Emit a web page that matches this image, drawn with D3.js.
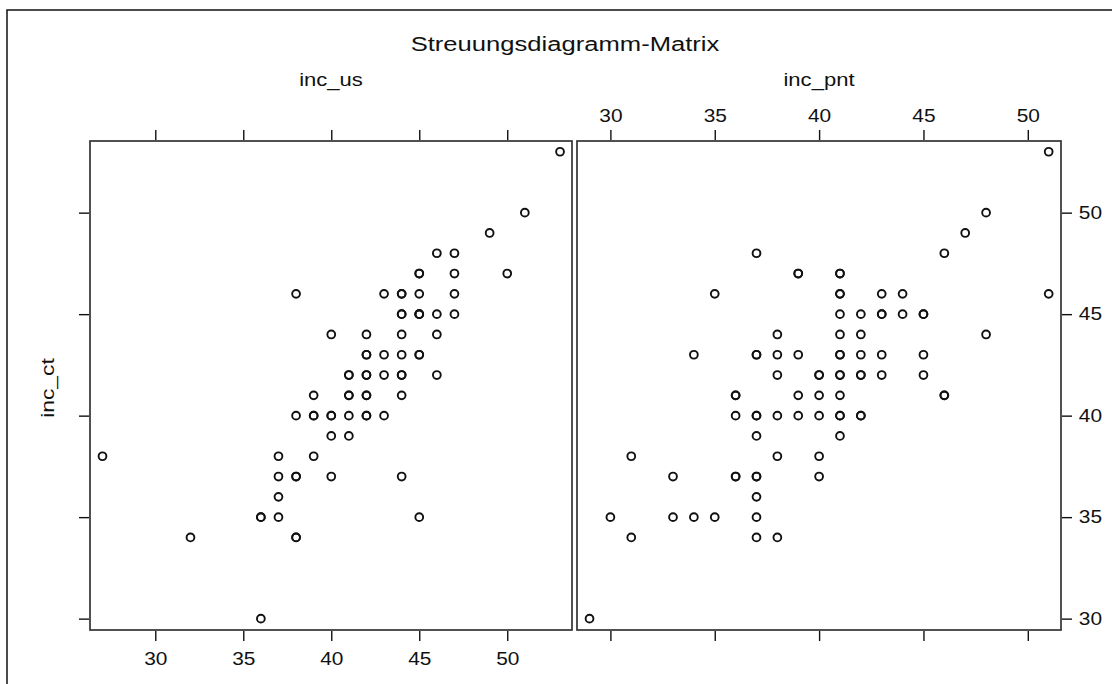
<!DOCTYPE html>
<html>
<head>
<meta charset="utf-8">
<script src="https://cdn.jsdelivr.net/npm/d3@7"></script>
<style>
  html, body { margin: 0; padding: 0; background: #fff; }
  svg { display: block; }
  text { font-family: "Liberation Sans", Arial, sans-serif; fill: #111; }
</style>
</head>
<body>
<svg id="chart" width="1112" height="684"></svg>
<script>
// ---------------- data ----------------
const chartTitle = "Streuungsdiagramm-Matrix";
const panelTitles = ["inc_us", "inc_pnt"];
const yVarName = "inc_ct";
const tickValues = [30, 35, 40, 45, 50];

// Panel 1: inc_us (x) vs inc_ct (y)
const incUs_x = [53,51,49,46,47,45,45,47,50,38,43,44,44,45,47,44,44,45,45,45,46,47,
  40,42,44,46,42,42,43,44,45,45,41,41,42,42,43,44,44,46,39,41,41,42,42,44,
  38,39,39,40,40,41,42,42,43,40,41,27,37,39,37,38,38,40,44,37,36,36,37,45,32,38,38,36];
const incUs_ct = [53,50,49,48,48,47,47,47,47,46,46,46,46,46,46,45,45,45,45,45,45,45,
  44,44,44,44,43,43,43,43,43,43,42,42,42,42,42,42,42,42,41,41,41,41,41,41,
  40,40,40,40,40,40,40,40,40,39,39,38,38,38,37,37,37,37,37,36,35,35,35,35,34,34,34,30];

// Panel 2: inc_pnt (x) vs inc_ct (y)
const incPnt_x = [51,48,47,37,46,39,39,41,41,35,41,41,43,44,51,41,42,43,43,44,45,45,
  38,41,42,48,34,37,37,38,39,41,41,42,43,45,38,40,40,41,41,42,42,43,45,
  36,36,39,40,41,46,46,36,37,37,38,39,40,41,41,42,42,37,41,31,38,40,
  33,36,36,37,37,40,37,30,33,34,35,37,31,37,38,29];
const incPnt_ct = [53,50,49,48,48,47,47,47,47,46,46,46,46,46,46,45,45,45,45,45,45,45,
  44,44,44,44,43,43,43,43,43,43,43,43,43,43,42,42,42,42,42,42,42,42,42,
  41,41,41,41,41,41,41,40,40,40,40,40,40,40,40,40,40,39,39,38,38,38,
  37,37,37,37,37,37,36,35,35,35,35,35,34,34,34,30];

// ---------------- drawing ----------------
const svg = d3.select("#chart");

// outer frame (only top and left edges fall inside the picture)
svg.append("rect")
  .attr("x", 7).attr("y", 10).attr("width", 1120).attr("height", 690)
  .attr("fill", "none").attr("stroke", "#111").attr("stroke-width", 1.5);

const yTop = 141, yBot = 630;
const panels = [
  { x0: 90, x1: 572, xs: incUs_x, ys: incUs_ct, domain: [26.29, 53.68], title: panelTitles[0],
    bottomLabels: true, topLabels: false },
  { x0: 577, x1: 1061, xs: incPnt_x, ys: incPnt_ct, domain: [28.40, 51.59], title: panelTitles[1],
    bottomLabels: false, topLabels: true }
];

const y = d3.scaleLinear().domain([29.44, 53.53]).range([yBot, yTop]);

const fontTick = 18, stretch = 1.16;

function styleAxis(g, showLabels) {
  g.select(".domain").remove();
  g.selectAll(".tick line").attr("stroke", "#111").attr("stroke-width", 1.4);
  g.selectAll(".tick text")
    .style("font-size", fontTick + "px")
    .attr("fill", "#111")
    .style("display", showLabels ? null : "none");
}

panels.forEach((p, i) => {
  const x = d3.scaleLinear().domain(p.domain).range([p.x0, p.x1]);

  // panel box
  svg.append("rect")
    .attr("x", p.x0).attr("y", yTop)
    .attr("width", p.x1 - p.x0).attr("height", yBot - yTop)
    .attr("fill", "none").attr("stroke", "#333").attr("stroke-width", 1.7);

  // bottom axis
  const gb = svg.append("g").attr("transform", `translate(0,${yBot + 1})`)
    .call(d3.axisBottom(x).tickValues(tickValues).tickSize(10).tickSizeOuter(0).tickPadding(11));
  styleAxis(gb, p.bottomLabels);
  gb.selectAll(".tick text").attr("transform", `scale(${stretch},1)`);

  // top axis
  const gt = svg.append("g").attr("transform", `translate(0,${yTop - 1})`)
    .call(d3.axisTop(x).tickValues(tickValues).tickSize(10).tickSizeOuter(0).tickPadding(8));
  styleAxis(gt, p.topLabels);
  gt.selectAll(".tick text").attr("transform", `scale(${stretch},1)`);

  // strip title
  svg.append("text")
    .attr("x", (p.x0 + p.x1) / 2).attr("y", 86)
    .attr("text-anchor", "middle")
    .style("font-size", "19px")
    .attr("transform", `translate(${(p.x0 + p.x1) / 2},0) scale(${stretch},1) translate(${-(p.x0 + p.x1) / 2},0)`)
    .text(p.title);

  // points
  const pts = p.xs.map((v, k) => [v, p.ys[k]]);
  svg.append("g").selectAll("circle").data(pts).join("circle")
    .attr("cx", d => x(d[0])).attr("cy", d => y(d[1]))
    .attr("r", 3.9)
    .attr("fill", "none").attr("stroke", "#111").attr("stroke-width", 1.9);
});

// left y axis (ticks only)
const gl = svg.append("g").attr("transform", `translate(${panels[0].x0 - 1},0)`)
  .call(d3.axisLeft(y).tickValues(tickValues).tickSize(10).tickSizeOuter(0));
styleAxis(gl, false);

// right y axis (with labels)
const gr = svg.append("g").attr("transform", `translate(${panels[1].x1 + 1},0)`)
  .call(d3.axisRight(y).tickValues(tickValues).tickSize(10).tickSizeOuter(0).tickPadding(4.5));
styleAxis(gr, true);
gr.selectAll(".tick text").attr("transform", `scale(${stretch},1)`);

// y variable label
svg.append("text")
  .attr("transform", `translate(54,388) rotate(-90) scale(1.2,1)`)
  .attr("text-anchor", "middle")
  .style("font-size", "19px")
  .text(yVarName);

// chart title
svg.append("text")
  .attr("transform", `translate(565,51) scale(1.22,1)`)
  .attr("text-anchor", "middle")
  .style("font-size", "21px")
  .text(chartTitle);
</script>
</body>
</html>
